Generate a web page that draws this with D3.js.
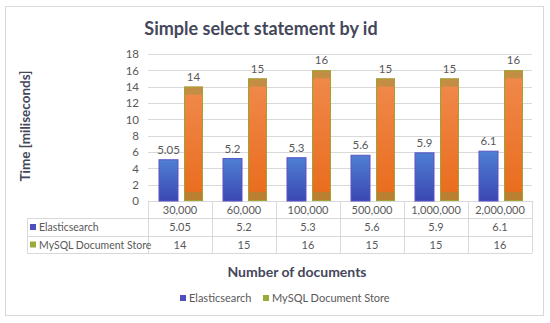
<!DOCTYPE html>
<html>
<head>
<meta charset="utf-8">
<script src="https://cdn.jsdelivr.net/npm/d3@7"></script>
<style>
  body { margin: 0; background: #fff; }
  text { font-family: Lato, "Open Sans", sans-serif; }
</style>
</head>
<body>
<div id="chart"></div>
<script>
var categories = ['30,000', '60,000', '100,000', '500,000', '1,000,000', '2,000,000'];
var seriesNames = ['Elasticsearch', 'MySQL Document Store'];
var elastic = [5.05, 5.2, 5.3, 5.6, 5.9, 6.1];
var mysql = [14, 15, 16, 15, 15, 16];
var yTicks = [0, 2, 4, 6, 8, 10, 12, 14, 16, 18];

var width = 550, height = 323;
var textColor = '#595959';
var gridColor = '#d9d9d9';
var keyColors = ['#4c4fbd', '#9aab3a'];

var svg = d3.select('#chart').append('svg')
  .attr('width', width).attr('height', height);

var defs = svg.append('defs');
var gBlue = defs.append('linearGradient').attr('id', 'gBlue')
  .attr('x1', 0).attr('y1', 0).attr('x2', 0).attr('y2', 1);
gBlue.append('stop').attr('offset', '0%').attr('stop-color', '#4f7fd3');
gBlue.append('stop').attr('offset', '100%').attr('stop-color', '#3b47b3');
var gOrange = defs.append('linearGradient').attr('id', 'gOrange')
  .attr('x1', 0).attr('y1', 0).attr('x2', 0).attr('y2', 1);
gOrange.append('stop').attr('offset', '0%').attr('stop-color', '#f08a4c');
gOrange.append('stop').attr('offset', '100%').attr('stop-color', '#e96b1c');

// frame
svg.append('rect')
  .attr('x', 5.5).attr('y', 6.5).attr('width', 538).attr('height', 309)
  .attr('fill', 'none').attr('stroke', '#d9d9d9');

// title
svg.append('text')
  .attr('x', 261).attr('y', 35)
  .attr('text-anchor', 'middle')
  .attr('font-size', '18px').attr('font-weight', 'bold')
  .attr('fill', '#44475a')
  .text('Simple select statement by id');

var x = d3.scaleBand().domain(categories).range([148, 532]);
var x1 = d3.scaleBand().domain(seriesNames).range([11, 55]).paddingInner(0.24);
var y = d3.scaleLinear().domain([0, 18]).range([201, 54]);

// gridlines
svg.append('g').selectAll('line').data(yTicks).enter().append('line')
  .attr('x1', 148).attr('x2', 532)
  .attr('y1', function(d){ return Math.round(y(d)) + 0.5; })
  .attr('y2', function(d){ return Math.round(y(d)) + 0.5; })
  .attr('stroke', gridColor);

// y axis labels
var yAxis = svg.append('g').attr('transform', 'translate(139,0)')
  .call(d3.axisLeft(y).tickValues(yTicks).tickSize(0).tickPadding(0));
yAxis.select('.domain').remove();
yAxis.selectAll('text')
  .attr('fill', textColor).attr('font-size', '11.5px')
  .attr('font-family', 'Lato, sans-serif');

svg.append('text')
  .attr('transform', 'translate(30,126) rotate(-90)')
  .attr('text-anchor', 'middle')
  .attr('font-size', '13.5px').attr('font-weight', 'bold')
  .attr('fill', '#44475a')
  .text('Time [miliseconds]');

// bars
var groups = svg.append('g').selectAll('g').data(categories).enter().append('g')
  .attr('transform', function(d){ return 'translate(' + x(d) + ',0)'; });

groups.append('rect')
  .attr('x', x1(seriesNames[0]))
  .attr('y', function(d, i){ return y(elastic[i]); })
  .attr('width', x1.bandwidth())
  .attr('height', function(d, i){ return y(0) - y(elastic[i]); })
  .attr('fill', 'url(#gBlue)')
  .attr('stroke', '#5a55c6').attr('stroke-width', 1);

groups.append('rect')
  .attr('x', x1(seriesNames[1]))
  .attr('y', function(d, i){ return y(mysql[i]); })
  .attr('width', x1.bandwidth())
  .attr('height', function(d, i){ return y(0) - y(mysql[i]); })
  .attr('fill', 'url(#gOrange)');

// softer olive bands at top and bottom of the orange bars
groups.append('rect')
  .attr('x', x1(seriesNames[1]))
  .attr('y', function(d, i){ return y(mysql[i]); })
  .attr('width', x1.bandwidth())
  .attr('height', 8)
  .attr('fill', '#b39043').attr('opacity', 0.75);
groups.append('rect')
  .attr('x', x1(seriesNames[1]))
  .attr('y', y(0) - 9)
  .attr('width', x1.bandwidth())
  .attr('height', 9)
  .attr('fill', '#a8873a').attr('opacity', 0.75);
groups.append('rect')
  .attr('x', x1(seriesNames[1]) + 0.5)
  .attr('y', function(d, i){ return y(mysql[i]) + 0.5; })
  .attr('width', x1.bandwidth() - 1)
  .attr('height', function(d, i){ return y(0) - y(mysql[i]) - 1; })
  .attr('fill', 'none')
  .attr('stroke', '#a2a234').attr('stroke-width', 1);

// value labels
groups.append('text')
  .attr('x', x1(seriesNames[0]) + x1.bandwidth() / 2)
  .attr('y', function(d, i){ return y(elastic[i]) - 6; })
  .attr('text-anchor', 'middle')
  .attr('font-size', '11.5px').attr('fill', textColor)
  .text(function(d, i){ return elastic[i]; });
groups.append('text')
  .attr('x', x1(seriesNames[1]) + x1.bandwidth() / 2)
  .attr('y', function(d, i){ return y(mysql[i]) - 6; })
  .attr('text-anchor', 'middle')
  .attr('font-size', '11.5px').attr('fill', textColor)
  .text(function(d, i){ return mysql[i]; });

// data table
var rowY = [201, 218, 236, 253];
var table = svg.append('g');
var tableLines = table.append('g').attr('stroke', gridColor);
rowY.slice(1).forEach(function(ry){
  tableLines.append('line')
    .attr('x1', 27).attr('x2', 532)
    .attr('y1', ry + 0.5).attr('y2', ry + 0.5);
});
tableLines.append('line')
  .attr('x1', 27.5).attr('x2', 27.5).attr('y1', rowY[1]).attr('y2', rowY[3]);
categories.concat([null]).forEach(function(c, i){
  var xx = i < categories.length ? x(c) : x(categories[categories.length - 1]) + x.bandwidth();
  tableLines.append('line')
    .attr('x1', xx + 0.5).attr('x2', xx + 0.5)
    .attr('y1', rowY[0]).attr('y2', rowY[3]);
});

var rows = [categories, elastic, mysql];
rows.forEach(function(row, r){
  table.selectAll('text.r' + r).data(row).enter().append('text')
    .attr('x', function(d, i){ return x(categories[i]) + x.bandwidth() / 2; })
    .attr('y', (rowY[r] + rowY[r + 1]) / 2 + 4)
    .attr('text-anchor', 'middle')
    .attr('font-size', '11px').attr('fill', textColor)
    .text(function(d){ return d; });
});
seriesNames.forEach(function(s, i){
  var cy = (rowY[i + 1] + rowY[i + 2]) / 2;
  table.append('rect')
    .attr('x', 30).attr('y', cy - 3).attr('width', 6).attr('height', 6)
    .attr('fill', keyColors[i]);
  table.append('text')
    .attr('x', 39).attr('y', cy + 4)
    .attr('font-size', '10.5px').attr('fill', textColor)
    .text(s);
});

// x axis title
svg.append('text')
  .attr('x', 297).attr('y', 277)
  .attr('text-anchor', 'middle')
  .attr('font-size', '14px').attr('font-weight', 'bold')
  .attr('fill', '#44475a')
  .text('Number of documents');

// legend
var legendX = [180, 263];
seriesNames.forEach(function(s, i){
  var lg = svg.append('g').attr('transform', 'translate(' + legendX[i] + ',298)');
  lg.append('rect').attr('x', 0).attr('y', -3).attr('width', 6).attr('height', 6)
    .attr('fill', keyColors[i]);
  lg.append('text').attr('x', 9).attr('y', 4)
    .attr('font-size', '11px').attr('fill', textColor)
    .text(s);
});
</script>
</body>
</html>
